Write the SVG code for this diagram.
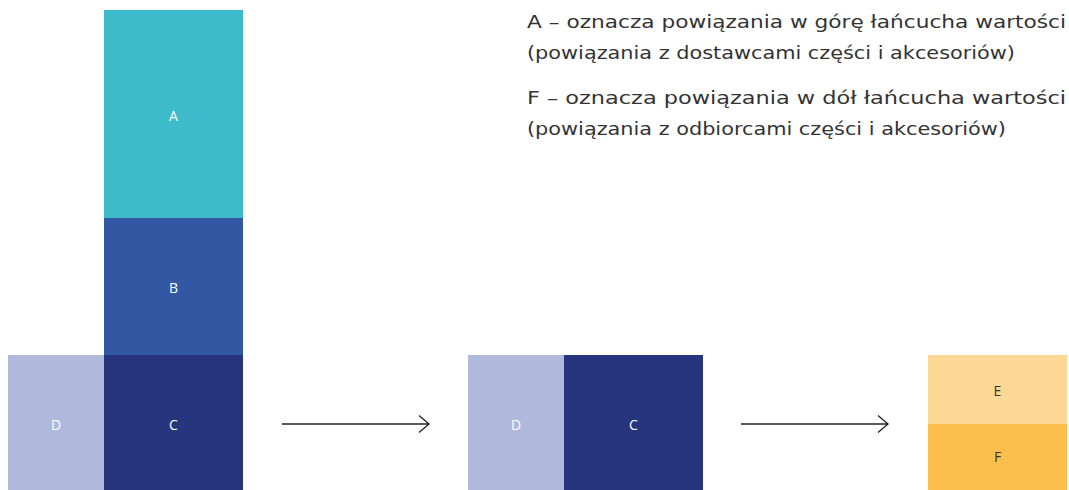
<svg xmlns="http://www.w3.org/2000/svg" width="1069" height="490" viewBox="0 0 1069 490">
<style>
.lbl{font-family:"Open Sans","Liberation Sans",sans-serif;font-size:14px;text-anchor:middle;dominant-baseline:central}
.w{fill:#ffffff}
.d{fill:#333333}
.legend{font-family:"DejaVu Sans","Liberation Sans",sans-serif;font-size:17.5px;fill:#333333}
.conn{stroke:#222222;stroke-width:1.3;fill:none}
</style>
<rect width="1069" height="490" fill="#ffffff"/>
<g id="A"><rect x="104" y="10" width="139" height="208" fill="#3dbbca"/><text class="lbl w" x="173.5" y="115">A</text></g>
<g id="B"><rect x="104" y="218" width="139" height="137" fill="#3358a3"/><text class="lbl w" x="173.5" y="287">B</text></g>
<g id="C1"><rect x="104" y="355" width="139" height="135" fill="#27357e"/><text class="lbl w" x="173.5" y="424">C</text></g>
<g id="D1"><rect x="8" y="355" width="96" height="135" fill="#b0b8dc"/><text class="lbl w" x="56" y="424">D</text></g>
<g id="D2"><rect x="468" y="355" width="96" height="135" fill="#b0b8dc"/><text class="lbl w" x="516" y="424">D</text></g>
<g id="C2"><rect x="564" y="355" width="139" height="135" fill="#27357e"/><text class="lbl w" x="633.5" y="424">C</text></g>
<g id="E"><rect x="928" y="355" width="139" height="69" fill="#fcd894"/><text class="lbl d" x="997.5" y="390">E</text></g>
<g id="F"><rect x="928" y="424" width="139" height="66" fill="#fdbf4b"/><text class="lbl d" x="997.5" y="456">F</text></g>
<g id="connectors">
<path class="conn" d="M282 424 H429 M419 415.5 L429 424 L419 432.5"/>
<path class="conn" d="M741 424 H888 M878 415.5 L888 424 L878 432.5"/>
</g>
<g id="legend">
<text class="legend" x="527" y="28" textLength="539" lengthAdjust="spacingAndGlyphs">A – oznacza powiązania w górę łańcucha wartości</text>
<text class="legend" x="527" y="59" textLength="488" lengthAdjust="spacingAndGlyphs">(powiązania z dostawcami części i akcesoriów)</text>
<text class="legend" x="527" y="104" textLength="539" lengthAdjust="spacingAndGlyphs">F – oznacza powiązania w dół łańcucha wartości</text>
<text class="legend" x="527" y="135" textLength="479" lengthAdjust="spacingAndGlyphs">(powiązania z odbiorcami części i akcesoriów)</text>
</g>
</svg>
